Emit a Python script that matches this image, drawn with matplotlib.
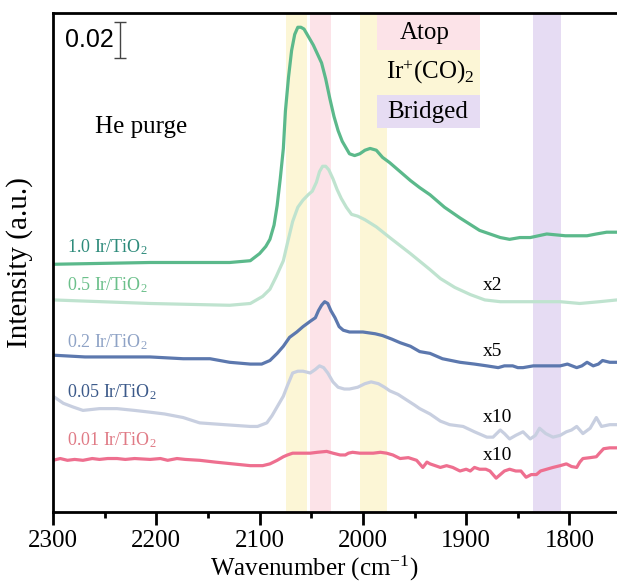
import matplotlib
matplotlib.use("Agg")
import matplotlib.pyplot as plt
from matplotlib.patches import Rectangle

plt.rcParams['font.family'] = ['Liberation Serif', 'DejaVu Serif']
plt.rcParams['mathtext.fontset'] = 'custom'
plt.rcParams['mathtext.rm'] = 'Liberation Serif'
plt.rcParams['mathtext.it'] = 'Liberation Serif:italic'

# DRIFTS spectra after He purge (scaled curves, stacked)
w1 = [2300, 2206, 2129, 2109, 2100, 2094, 2090, 2086, 2083, 2080, 2077, 2075, 2072, 2069, 2066,
      2063, 2060, 2057, 2053, 2048, 2044, 2040, 2036, 2032, 2028, 2024, 2020, 2016, 2013, 2008,
      2003, 1998, 1993, 1987, 1981, 1974, 1964, 1954, 1945, 1935, 1921, 1906, 1887, 1867, 1858,
      1848, 1838, 1822, 1804, 1783, 1774, 1764, 1754]
a1 = [0.141, 0.142, 0.142, 0.143, 0.147, 0.151, 0.155, 0.163, 0.174, 0.189, 0.206, 0.227, 0.246,
      0.261, 0.270, 0.274, 0.274, 0.273, 0.269, 0.264, 0.259, 0.254, 0.245, 0.234, 0.224, 0.216,
      0.210, 0.206, 0.203, 0.202, 0.203, 0.205, 0.206, 0.205, 0.201, 0.198, 0.193, 0.188, 0.184,
      0.180, 0.173, 0.167, 0.160, 0.156, 0.155, 0.156, 0.156, 0.158, 0.157, 0.157, 0.158, 0.159,
      0.159]

w2 = [2300, 2206, 2129, 2109, 2103, 2097, 2090, 2084, 2077, 2073, 2068, 2063, 2058, 2053, 2049,
      2045, 2042, 2039, 2036, 2033, 2029, 2025, 2021, 2016, 2011, 2005, 1998, 1987, 1974, 1954,
      1935, 1925, 1911, 1896, 1882, 1867, 1848, 1829, 1809, 1790, 1771, 1754]
a2 = [0.121, 0.119, 0.118, 0.119, 0.121, 0.123, 0.127, 0.134, 0.143, 0.153, 0.165, 0.173, 0.177,
      0.180, 0.182, 0.187, 0.193, 0.196, 0.196, 0.194, 0.189, 0.183, 0.178, 0.173, 0.169, 0.168,
      0.166, 0.162, 0.156, 0.147, 0.138, 0.133, 0.128, 0.124, 0.121, 0.120, 0.120, 0.120, 0.120,
      0.119, 0.120, 0.121]

w3 = [2300, 2269, 2238, 2206, 2174, 2148, 2129, 2109, 2098, 2090, 2083, 2077, 2071, 2064, 2058,
      2051, 2046, 2043, 2040, 2037, 2034, 2031, 2027, 2023, 2019, 2013, 2000, 1988, 1981, 1972,
      1964, 1954, 1945, 1935, 1923, 1906, 1892, 1880, 1869, 1863, 1855, 1850, 1845, 1835, 1829,
      1819, 1809, 1802, 1793, 1788, 1783, 1777, 1772, 1768, 1761, 1754]
a3 = [0.090, 0.089, 0.089, 0.089, 0.088, 0.088, 0.086, 0.085, 0.085, 0.087, 0.091, 0.095, 0.100,
      0.103, 0.106, 0.109, 0.111, 0.115, 0.118, 0.120, 0.119, 0.115, 0.111, 0.106, 0.104, 0.103,
      0.103, 0.102, 0.101, 0.099, 0.097, 0.095, 0.092, 0.091, 0.088, 0.086, 0.085, 0.084, 0.083,
      0.084, 0.084, 0.083, 0.083, 0.084, 0.084, 0.084, 0.084, 0.085, 0.083, 0.084, 0.086, 0.084,
      0.085, 0.087, 0.086, 0.086]

w4 = [2300, 2295, 2290, 2281, 2271, 2255, 2238, 2221, 2206, 2192, 2174, 2158, 2134, 2109, 2102,
      2093, 2088, 2082, 2077, 2073, 2068, 2063, 2058, 2051, 2046, 2042, 2038, 2034, 2029, 2024,
      2018, 2013, 2005, 1998, 1992, 1985, 1979, 1974, 1966, 1958, 1950, 1945, 1935, 1925, 1916,
      1903, 1892, 1880, 1874, 1867, 1863, 1858, 1852, 1845, 1838, 1833, 1829, 1823, 1816, 1809,
      1803, 1798, 1793, 1787, 1780, 1774, 1769, 1761, 1754]
a4 = [0.067, 0.065, 0.063, 0.061, 0.059, 0.060, 0.060, 0.059, 0.058, 0.057, 0.055, 0.052, 0.051,
      0.050, 0.050, 0.052, 0.056, 0.062, 0.067, 0.073, 0.080, 0.081, 0.081, 0.080, 0.082, 0.084,
      0.083, 0.080, 0.075, 0.072, 0.071, 0.071, 0.072, 0.074, 0.075, 0.074, 0.072, 0.070, 0.068,
      0.065, 0.062, 0.060, 0.057, 0.053, 0.051, 0.050, 0.047, 0.044, 0.044, 0.048, 0.046, 0.043,
      0.045, 0.047, 0.043, 0.045, 0.049, 0.046, 0.044, 0.045, 0.047, 0.048, 0.050, 0.046, 0.049,
      0.055, 0.050, 0.051, 0.051]

w5 = [2300, 2293, 2286, 2279, 2271, 2262, 2255, 2247, 2238, 2230, 2221, 2206, 2196, 2189, 2180,
      2172, 2158, 2143, 2126, 2109, 2097, 2090, 2083, 2077, 2073, 2068, 2061, 2051, 2044, 2035,
      2029, 2022, 2017, 2014, 2010, 2003, 1997, 1990, 1983, 1977, 1971, 1964, 1956, 1948, 1945,
      1942, 1938, 1935, 1930, 1925, 1919, 1913, 1906, 1900, 1896, 1892, 1887, 1881, 1877, 1871,
      1867, 1863, 1858, 1852, 1847, 1842, 1837, 1832, 1828, 1822, 1816, 1809, 1803, 1798, 1793,
      1790, 1787, 1780, 1774, 1771, 1767, 1761, 1754]
a5 = [0.031, 0.032, 0.031, 0.0315, 0.031, 0.032, 0.0315, 0.032, 0.032, 0.0315, 0.032, 0.0315,
      0.032, 0.031, 0.032, 0.0315, 0.031, 0.030, 0.029, 0.028, 0.028, 0.029, 0.031, 0.033, 0.034,
      0.035, 0.035, 0.035, 0.0355, 0.036, 0.035, 0.034, 0.034, 0.035, 0.0355, 0.035, 0.035, 0.035,
      0.0355, 0.035, 0.034, 0.032, 0.0325, 0.031, 0.029, 0.027, 0.030, 0.029, 0.028, 0.027, 0.028,
      0.027, 0.025, 0.026, 0.025, 0.027, 0.026, 0.026, 0.025, 0.021, 0.023, 0.025, 0.026, 0.025,
      0.025, 0.0215, 0.023, 0.023, 0.025, 0.026, 0.027, 0.028, 0.029, 0.0275, 0.027, 0.030, 0.032,
      0.0325, 0.033, 0.035, 0.0375, 0.038, 0.038]

labels = ['1.0 Ir/TiO$_\\mathregular{2}$', '0.5 Ir/TiO$_\\mathregular{2}$',
          '0.2 Ir/TiO$_\\mathregular{2}$', '0.05 Ir/TiO$_\\mathregular{2}$',
          '0.01 Ir/TiO$_\\mathregular{2}$']
factors = ['x2', 'x5', 'x10', 'x10']

line_colors = ['#5BB98B', '#BFE3CF', '#5C78AE', '#C8CFE0', '#EE6F8F']
text_colors = ['#2E8B7B', '#6CC08B', '#8FA3C6', '#3C5A8A', '#E07B86']

yellow = '#FCF6D6'
pink = '#FCE3E8'
purple = '#E6DCF3'

fig = plt.figure(figsize=(6.17, 5.83), dpi=100)
ax = fig.add_axes([0.0859, 0.1218, 0.9141, 0.8559])

# assignment bands
ax.axvspan(2074, 2054, color=yellow, lw=0, zorder=0)
ax.axvspan(2051, 2031, color=pink, lw=0, zorder=0)
ax.axvspan(2003, 1977, color=yellow, lw=0, zorder=0)
ax.axvspan(1835, 1808, color=purple, lw=0, zorder=0)

# band key boxes
ax.add_patch(Rectangle((1986, 0.2613), -99.5, 0.021, color=pink, lw=0, zorder=0))
ax.add_patch(Rectangle((1986, 0.2360), -99.5, 0.0253, color=yellow, lw=0, zorder=0))
ax.add_patch(Rectangle((1986, 0.2175), -99.5, 0.0185, color=purple, lw=0, zorder=0))
ax.text(1940, 0.2709, 'Atop', fontsize=18, ha='center', va='center')
ax.text(1935, 0.2490, 'Ir$^\\mathregular{+}$(CO)$_\\mathregular{2}$', fontsize=18,
        ha='center', va='center')
ax.text(1937, 0.2265, 'Bridged', fontsize=18, ha='center', va='center')

ws = [w1, w2, w3, w4, w5]
As = [a1, a2, a3, a4, a5]
for w, a, c in zip(ws, As, line_colors):
    ax.plot(w, a, color=c, lw=2.3, solid_joinstyle='round', zorder=2)

lab_y = [0.1508, 0.1293, 0.0974, 0.0693, 0.0422]
for s, y, c in zip(labels, lab_y, text_colors):
    ax.text(2286, y, s, fontsize=13, color=c, ha='left', va='center')

fac_y = [0.1293, 0.0918, 0.0552, 0.0337]
for s, y in zip(factors, fac_y):
    ax.text(1884, y, s, fontsize=14, ha='left', va='center')

ax.text(2259, 0.218, 'He purge', fontsize=18, ha='left', va='center')

# 0.02 a.u. scale bar
ax.errorbar([2235], [0.2667], yerr=[0.01], color='#444444', lw=1, capsize=4, capthick=1)
ax.text(2241, 0.2670, '0.02', fontsize=18, family='Liberation Sans', ha='right', va='center')

ax.set_xlim(2300, 1754)
ax.set_ylim(0.002, 0.282)
ax.set_xticks([2300, 2200, 2100, 2000, 1900, 1800])
ax.set_xticks([2250, 2150, 2050, 1950, 1850], minor=True)
ax.set_yticks([])
ax.tick_params(axis='x', which='major', direction='out', length=9, width=2, labelsize=18, pad=4)
ax.tick_params(axis='x', which='minor', direction='out', length=4, width=2)
for sp in ['left', 'top', 'bottom']:
    ax.spines[sp].set_linewidth(2)
ax.spines['right'].set_visible(False)

ax.set_xlabel('Wavenumber (cm$^\\mathregular{-1}$)', fontsize=18)
ax.xaxis.set_label_coords(0.463, -0.083)
ax.set_ylabel('Intensity (a.u.)', fontsize=21)
ax.yaxis.set_label_coords(-0.035, 0.5)

plt.savefig('out.png', dpi=100)
